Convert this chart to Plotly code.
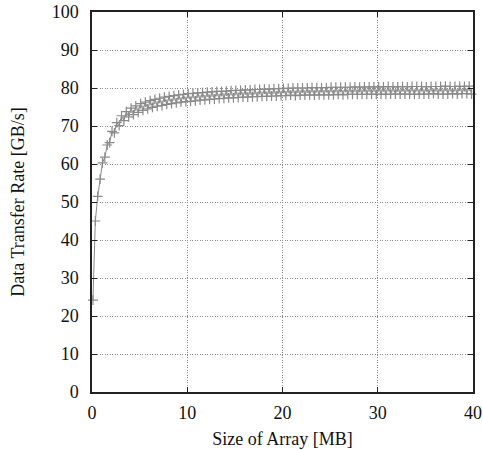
import plotly.graph_objects as go

size_mb = [
    0.10, 0.35, 0.60, 0.85, 1.10, 1.35, 1.60, 1.85, 2.10, 2.35,
    2.60, 2.85, 3.10, 3.35, 3.60, 3.85, 4.10, 4.35, 4.60, 4.85,
    5.10, 5.35, 5.60, 5.85, 6.10, 6.35, 6.60, 6.85, 7.10, 7.35,
    7.60, 7.85, 8.10, 8.35, 8.60, 8.85, 9.10, 9.35, 9.60, 9.85,
    10.10, 10.35, 10.60, 10.85, 11.10, 11.35, 11.60, 11.85, 12.10, 12.35,
    12.60, 12.85, 13.10, 13.35, 13.60, 13.85, 14.10, 14.35, 14.60, 14.85,
    15.10, 15.35, 15.60, 15.85, 16.10, 16.35, 16.60, 16.85, 17.10, 17.35,
    17.60, 17.85, 18.10, 18.35, 18.60, 18.85, 19.10, 19.35, 19.60, 19.85,
    20.10, 20.35, 20.60, 20.85, 21.10, 21.35, 21.60, 21.85, 22.10, 22.35,
    22.60, 22.85, 23.10, 23.35, 23.60, 23.85, 24.10, 24.35, 24.60, 24.85,
    25.10, 25.35, 25.60, 25.85, 26.10, 26.35, 26.60, 26.85, 27.10, 27.35,
    27.60, 27.85, 28.10, 28.35, 28.60, 28.85, 29.10, 29.35, 29.60, 29.85,
    30.10, 30.35, 30.60, 30.85, 31.10, 31.35, 31.60, 31.85, 32.10, 32.35,
    32.60, 32.85, 33.10, 33.35, 33.60, 33.85, 34.10, 34.35, 34.60, 34.85,
    35.10, 35.35, 35.60, 35.85, 36.10, 36.35, 36.60, 36.85, 37.10, 37.35,
    37.60, 37.85, 38.10, 38.35, 38.60, 38.85, 39.10, 39.35, 39.60, 39.85,
]

rate_gbs = [
    24.2, 45.0, 51.5, 56.0, 60.3, 61.8, 65.0, 65.6, 68.6, 68.2,
    70.9, 70.1, 72.7, 71.4, 73.8, 72.4, 74.7, 73.0, 75.3, 73.6,
    75.9, 74.1, 76.3, 74.5, 76.7, 74.9, 77.0, 75.2, 77.3, 75.4,
    77.6, 75.7, 77.8, 75.9, 78.0, 76.1, 78.2, 76.3, 78.3, 76.4,
    78.5, 76.5, 78.6, 76.6, 78.7, 76.8, 78.8, 76.9, 78.9, 77.0,
    79.0, 77.1, 79.1, 77.2, 79.1, 77.3, 79.2, 77.4, 79.3, 77.4,
    79.4, 77.5, 79.4, 77.6, 79.5, 77.6, 79.5, 77.7, 79.6, 77.7,
    79.6, 77.8, 79.7, 77.8, 79.7, 77.9, 79.8, 77.9, 79.8, 78.0,
    79.9, 78.0, 79.9, 78.1, 80.0, 78.0, 80.0, 78.1, 80.0, 78.1,
    80.0, 78.2, 80.1, 78.1, 80.1, 78.2, 80.1, 78.2, 80.1, 78.2,
    80.2, 78.2, 80.2, 78.3, 80.2, 78.2, 80.2, 78.3, 80.2, 78.3,
    80.3, 78.3, 80.2, 78.3, 80.3, 78.3, 80.3, 78.4, 80.3, 78.3,
    80.3, 78.4, 80.3, 78.3, 80.4, 78.4, 80.3, 78.4, 80.3, 78.4,
    80.4, 78.4, 80.3, 78.4, 80.4, 78.3, 80.4, 78.4, 80.4, 78.4,
    80.3, 78.4, 80.4, 78.5, 80.4, 78.4, 80.4, 78.4, 80.5, 78.4,
    80.4, 78.5, 80.4, 78.4, 80.5, 78.5, 80.4, 78.5, 80.5, 78.4,
]

x_ticks = [0, 10, 20, 30, 40]
y_ticks = [0, 10, 20, 30, 40, 50, 60, 70, 80, 90, 100]

x_title = "Size of Array [MB]"
y_title = "Data Transfer Rate [GB/s]"

serif = "Liberation Serif, Times New Roman, serif"

fig = go.Figure()
fig.add_trace(go.Scatter(
    x=size_mb, y=rate_gbs, mode="lines+markers",
    line=dict(color="#8a8a8a", width=1),
    marker=dict(symbol="cross-thin", size=7,
                line=dict(color="#8a8a8a", width=1.2)),
    showlegend=False, cliponaxis=False,
))

axis_common = dict(
    showline=True, linecolor="#222", linewidth=1.5, mirror="ticks",
    ticks="inside", ticklen=5, tickwidth=1.2, tickcolor="#222",
    showgrid=True, gridcolor="#8f8f8f", griddash="1px,1.5px", gridwidth=1,
    zeroline=False, automargin=False,
    tickfont=dict(family=serif, size=18, color="#111"),
)

fig.update_xaxes(range=[0, 40], tickvals=x_ticks, **axis_common,
                 ticklabelstandoff=4,
                 title=dict(text=x_title, font=dict(family=serif, size=18, color="#111"), standoff=10))
fig.update_yaxes(range=[0, 100], tickvals=y_ticks, **axis_common,
                 ticklabelstandoff=8,
                 title=dict(text=y_title, font=dict(family=serif, size=18, color="#111"), standoff=22))

fig.update_layout(
    width=483, height=450,
    margin=dict(l=92, r=10, t=12, b=58),
    paper_bgcolor="white", plot_bgcolor="white",
)

fig.write_html("out.html", config={"displayModeBar": False},
               post_script="document.body.style.margin='0';")
